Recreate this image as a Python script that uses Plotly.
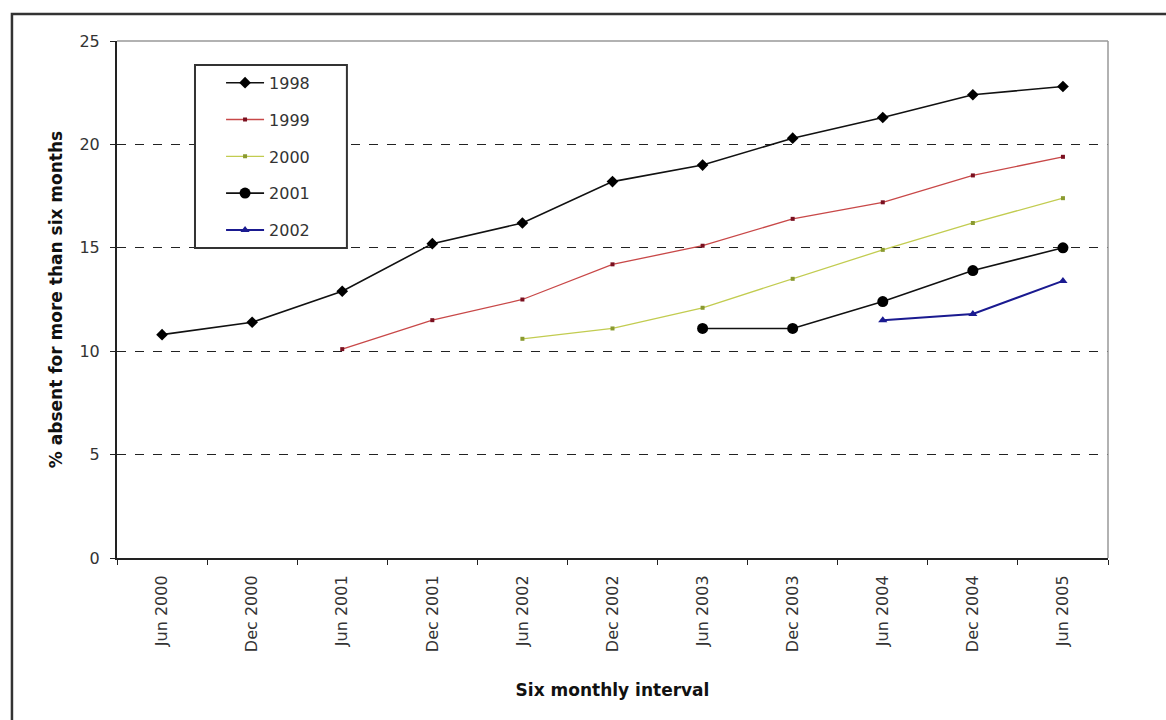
import plotly.graph_objects as go

# Six-monthly intervals along the x axis
periods = ["Jun 2000", "Dec 2000", "Jun 2001", "Dec 2001", "Jun 2002", "Dec 2002",
           "Jun 2003", "Dec 2003", "Jun 2004", "Dec 2004", "Jun 2005"]

# % absent for more than six months, by cohort year
cohort_1998 = [10.8, 11.4, 12.9, 15.2, 16.2, 18.2, 19.0, 20.3, 21.3, 22.4, 22.8]
cohort_1999 = [10.1, 11.5, 12.5, 14.2, 15.1, 16.4, 17.2, 18.5, 19.4]
cohort_2000 = [10.6, 11.1, 12.1, 13.5, 14.9, 16.2, 17.4]
cohort_2001 = [11.1, 11.1, 12.4, 13.9, 15.0]
cohort_2002 = [11.5, 11.8, 13.4]

series = [
    ("1998", cohort_1998, dict(color="#111111", width=1.6), dict(symbol="diamond", size=9, color="#000000")),
    ("1999", cohort_1999, dict(color="#c84848", width=1.3), dict(symbol="square", size=4, color="#7a1020")),
    ("2000", cohort_2000, dict(color="#c2cc50", width=1.3), dict(symbol="square", size=4, color="#8a9a30")),
    ("2001", cohort_2001, dict(color="#111111", width=1.6), dict(symbol="circle", size=11, color="#000000")),
    ("2002", cohort_2002, dict(color="#1a1a90", width=2), dict(symbol="triangle-up", size=8, color="#1a1a90")),
]

font_family = "DejaVu Sans, Verdana, sans-serif"

fig = go.Figure()
for name, vals, line, marker in series:
    # each cohort starts later and runs to the final period
    xs = periods[len(periods) - len(vals):]
    fig.add_trace(go.Scatter(
        x=xs, y=vals, name=name, mode="lines+markers",
        line=line, marker=marker, legendgroup=name,
    ))

fig.update_layout(
    width=1166, height=720,
    margin=dict(l=117, r=58, t=41, b=162),
    paper_bgcolor="white", plot_bgcolor="white",
    font=dict(family=font_family, size=16, color="#333333"),
    showlegend=True,
    legend=dict(
        x=0.105, y=0.952, xanchor="left", yanchor="top",
        borderwidth=0, bgcolor="rgba(0,0,0,0)",
        font=dict(size=16, color="#333333"),
        tracegroupgap=13, itemwidth=38,
    ),
    xaxis=dict(
        type="category", categoryorder="array", categoryarray=periods,
        range=[-0.5, len(periods) - 0.5],
        tickangle=-90, tickson="boundaries", ticks="outside", ticklen=5,
        tickcolor="#222222", showline=True, linecolor="#222222", linewidth=2,
        showgrid=False, zeroline=False, ticklabelstandoff=9,
        tickfont=dict(size=16, color="#333333"),
        title=dict(text="<b>Six monthly interval</b>", font=dict(size=17, color="#111111"), standoff=33),
    ),
    yaxis=dict(
        range=[0, 25], dtick=5, ticks="outside", ticklen=5, tickcolor="#222222",
        showline=True, linecolor="#222222", linewidth=2,
        showgrid=True, gridcolor="#222222", griddash="dash", gridwidth=1,
        zeroline=False, ticklabelstandoff=7,
        tickfont=dict(size=16, color="#333333"),
        title=dict(text="<b>% absent for more than six months</b>", font=dict(size=17, color="#111111"), standoff=12),
    ),
    shapes=[
        # gray frame on top and right of the plot area
        dict(type="line", xref="x domain", yref="y domain", x0=0, x1=1, y0=1, y1=1,
             line=dict(color="#999999", width=1.5)),
        dict(type="line", xref="x domain", yref="y domain", x0=1, x1=1, y0=0, y1=1,
             line=dict(color="#999999", width=1.5)),
        # legend box, white fill hides the grid behind the entries
        dict(type="rect", xref="x domain", yref="y domain", layer="above",
             x0=0.0787, x1=0.232, y0=0.5996, y1=0.9536,
             fillcolor="white", line=dict(color="#333333", width=2)),
        # outer chart border
        dict(type="rect", xref="paper", yref="paper",
             x0=-0.106, x1=1.2, y0=-0.5, y1=1.052,
             line=dict(color="#333333", width=2.5)),
    ],
)

fig.write_html("out.html")
